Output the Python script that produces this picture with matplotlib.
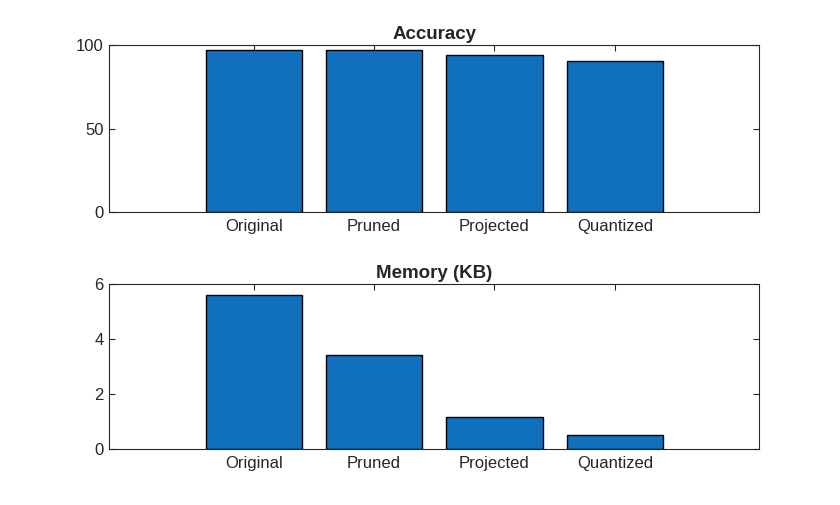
import matplotlib
matplotlib.use("Agg")
import matplotlib.pyplot as plt

categories = ["Original", "Pruned", "Projected", "Quantized"]
accuracy = [96.8, 96.8, 93.8, 90.6]
memory_kb = [5.58, 3.43, 1.16, 0.51]

bar_color = "#1170BE"
axis_color = "#262626"

plt.rcParams["font.family"] = ["Arial", "Liberation Sans", "DejaVu Sans"]


def style_axes(ax, values, title, ylim, yticks):
    xs = list(range(1, len(categories) + 1))
    ax.bar(xs, values, width=0.8, color=bar_color, edgecolor="black", linewidth=1.0, zorder=2)
    ax.set_xlim(-0.2, len(categories) + 1.2)
    ax.set_ylim(*ylim)
    ax.set_xticks(xs)
    ax.set_xticklabels(categories)
    ax.set_yticks(yticks)
    ax.tick_params(direction="in", length=4.5, width=0.8, colors=axis_color,
                   labelsize=12, top=True, right=True, pad=4)
    ax.tick_params(axis="x", pad=5)
    for s in ax.spines.values():
        s.set_color(axis_color)
        s.set_linewidth(0.8)
    ax.set_title(title, fontsize=13.5, fontweight="bold", color=axis_color, pad=4)


def main():
    fig = plt.figure(figsize=(8.4, 5.05), dpi=100)
    ax1 = fig.add_axes([0.130, 0.5796, 0.774, 0.3313])
    ax2 = fig.add_axes([0.130, 0.1103, 0.774, 0.3279])

    style_axes(ax1, accuracy, "Accuracy", (0, 100), [0, 50, 100])
    style_axes(ax2, memory_kb, "Memory (KB)", (0, 6), [0, 2, 4, 6])

    fig.savefig("out.png", dpi=100)


if __name__ == '__main__':
    main()
